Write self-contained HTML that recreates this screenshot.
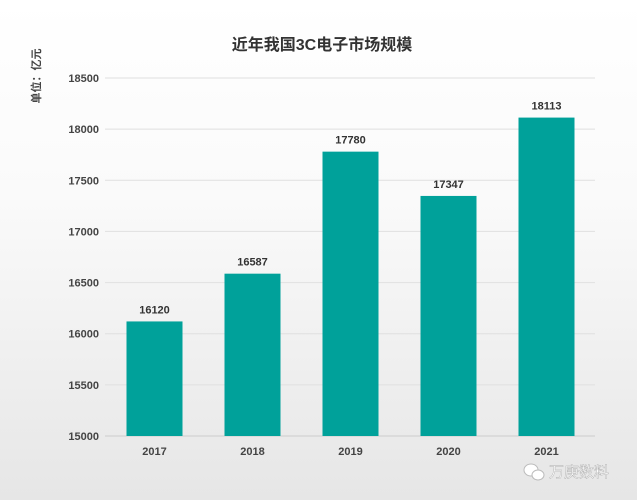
<!DOCTYPE html>
<html><head><meta charset="utf-8"><style>
html,body{margin:0;padding:0}
body{width:637px;height:500px;overflow:hidden;background:linear-gradient(#fff 0%,#fafafa 40%,#e6e6e6 100%);font-family:"Liberation Sans","Noto Sans CJK SC",sans-serif}
svg{display:block}
</style></head><body>
<svg id="chart" width="637" height="500" xmlns="http://www.w3.org/2000/svg" style="font-family:'Liberation Sans','Noto Sans CJK SC',sans-serif">
<text x="322" y="50" text-anchor="middle" font-size="16" font-weight="bold" fill="#333">近年我国3C电子市场规模</text>
<text transform="translate(40,76) rotate(-90)" text-anchor="middle" font-size="11" font-weight="bold" fill="#444">单位：亿元</text>
<g id="grid"></g><g id="bars"></g>
<g><ellipse cx="531" cy="470" rx="7" ry="6" fill="#fff" stroke="#bbb"/><ellipse cx="538" cy="475" rx="6" ry="5" fill="#fff" stroke="#bbb"/></g>
<text x="549" y="477" font-size="15" fill="#fff" stroke="#aaa" stroke-width="0.4">万庚数料</text>
</svg>
<script>
const categories=["2017","2018","2019","2020","2021"];
const values=[16120,16587,17780,17347,18113];
const ticks=[15000,15500,16000,16500,17000,17500,18000,18500];
const NS="http://www.w3.org/2000/svg";
const x0=105,x1=595,yMin=15000,yMax=18500,yTop=78,yBot=436;
const y=v=>yBot-(v-yMin)/(yMax-yMin)*(yBot-yTop);
const band=(x1-x0)/categories.length;
const xc=i=>x0+band*(i+0.5)+0.5;
function mk(t,a,p){const e=document.createElementNS(NS,t);for(const k in a)e.setAttribute(k,a[k]);p.appendChild(e);return e;}
const grid=document.getElementById('grid'),bars=document.getElementById('bars');
ticks.forEach(t=>{
const l=mk('line',{x1:x0,x2:x1,y1:y(t),y2:y(t),stroke:t===yMin?'#ccc':'#e0e0e0','stroke-width':1},grid);


const tx=mk('text',{x:99,y:y(t)+4,'text-anchor':'end','font-size':11,'font-weight':'bold',fill:'#444'},grid);
tx.textContent=t;


});
categories.forEach((c,i)=>{
const w=56;
const r=mk('rect',{x:xc(i)-w/2,y:y(values[i]),width:w,height:yBot-y(values[i]),fill:'#00a19a'},bars);


const v=mk('text',{x:xc(i),y:y(values[i])-8,'text-anchor':'middle','font-size':11,'font-weight':'bold',fill:'#333'},bars);
v.textContent=values[i];


const xl=mk('text',{x:xc(i),y:455,'text-anchor':'middle','font-size':11,'font-weight':'bold',fill:'#444'},bars);
xl.textContent=c;


});
</script>
</body></html>
